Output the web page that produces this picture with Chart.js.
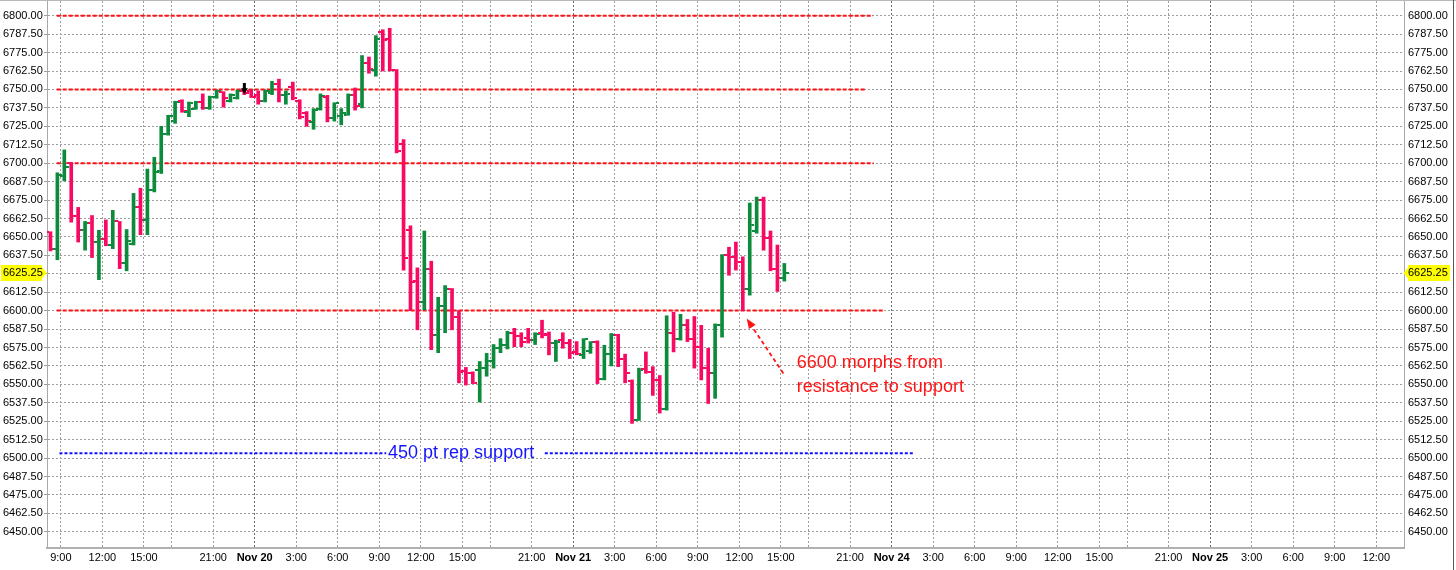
<!DOCTYPE html>
<html>
<head>
<meta charset="utf-8">
<title>ES 30-min bars</title>
<script src="https://cdn.jsdelivr.net/npm/chart.js@4.4.1/dist/chart.umd.min.js"></script>
<style>
  html, body { margin: 0; padding: 0; background: #fff; }
  #wrap { width: 1456px; height: 570px; }
</style>
</head>
<body>
<div id="wrap"><canvas id="es" width="1456" height="570"></canvas></div>
<script>
/* ES 30-minute OHLC bars, Nov 19 - Nov 21, with the drawn levels */

// x is trading hours since Nov 19 08:00 (daily 17:00-18:00 break and the weekend removed)
const X_TICKS = [1, 4, 7, 9, 12, 15, 18, 21, 24, 27, 30, 32, 35, 38, 41, 44, 47, 50, 53, 55,
  58, 61, 64, 67, 70, 73, 76, 78, 81, 84, 87, 90, 93, 96];
const X_LABELS = ["9:00", "12:00", "15:00", "", "21:00", "Nov 20", "3:00", "6:00", "9:00", "12:00",
  "15:00", "", "21:00", "Nov 21", "3:00", "6:00", "9:00", "12:00", "15:00", "",
  "21:00", "Nov 24", "3:00", "6:00", "9:00", "12:00", "15:00", "", "21:00", "Nov 25",
  "3:00", "6:00", "9:00", "12:00"];
const Y_TICKS = [6450, 6462.5, 6475, 6487.5, 6500, 6512.5, 6525, 6537.5, 6550, 6562.5,
  6575, 6587.5, 6600, 6612.5, 6625, 6637.5, 6650, 6662.5, 6675, 6687.5,
  6700, 6712.5, 6725, 6737.5, 6750, 6762.5, 6775, 6787.5, 6800];

// one bar per half hour, starting Nov 19 08:00
const OPEN = [6653, 6642, 6691.5, 6700, 6664.5, 6654.5, 6659.5, 6646.5, 6648.5, 6644.5,
  6660.5, 6632.5, 6645.5, 6670, 6661.5, 6681.5, 6694.5, 6720, 6728.5, 6742,
  6735, 6737, 6741.5, 6737.5, 6745, 6748, 6742, 6744, 6749, 6749,
  6746.5, 6742, 6747.5, 6754, 6746, 6751.5, 6742, 6734, 6728, 6736.5,
  6745, 6730.5, 6732, 6733, 6746, 6740, 6768, 6763, 6789, 6784,
  6763, 6713, 6655, 6620, 6606, 6628.5, 6583.5, 6603, 6614.5, 6596,
  6559, 6558, 6559.5, 6561, 6565.5, 6574.5, 6577, 6585, 6582.5, 6581.5,
  6580, 6584.5, 6584, 6578, 6580, 6578, 6572, 6570, 6572.5, 6579,
  6553.5, 6570.5, 6583.5, 6567, 6552, 6526, 6560.5, 6558.5, 6553, 6533,
  6585, 6581, 6590, 6580.5, 6575.5, 6561, 6558, 6590, 6637.5, 6636.5,
  6633, 6615, 6654, 6675, 6649, 6628, 6622];
const HIGH = [6653.5, 6693.5, 6709, 6700.5, 6670, 6660.5, 6664.5, 6654.5, 6661.5, 6668,
  6660.5, 6655, 6679.5, 6683, 6696, 6704, 6725, 6732.5, 6742, 6743,
  6741.5, 6742, 6747, 6745.5, 6749.5, 6748.5, 6747, 6749.5, 6751, 6749.5,
  6749, 6749.5, 6755.5, 6757, 6749, 6755, 6743, 6735, 6737, 6747,
  6746, 6741, 6737, 6747, 6751, 6773, 6772, 6786.5, 6790.5, 6791.5,
  6763.5, 6716, 6657.5, 6629, 6654, 6633.5, 6609, 6617, 6615, 6600,
  6561.5, 6558.5, 6565.5, 6571, 6577, 6581, 6586, 6588, 6585, 6588,
  6585, 6593.5, 6585.5, 6580, 6585, 6580.5, 6579, 6581, 6579, 6579.5,
  6576.5, 6584.5, 6584, 6570.5, 6553, 6561, 6572, 6562, 6556, 6596.5,
  6599, 6597.5, 6594, 6596, 6590, 6574.5, 6591, 6638, 6643, 6646.5,
  6636.5, 6673, 6677, 6677, 6654, 6644.5, 6632];
const LOW = [6640.5, 6634.5, 6688, 6660, 6646.5, 6641, 6636, 6621, 6644, 6642,
  6628.5, 6627, 6644.5, 6651.5, 6651.5, 6680.5, 6693, 6719, 6727, 6734.5,
  6731.5, 6736.5, 6736.5, 6736.5, 6744, 6738, 6741.5, 6743.5, 6746.5, 6744.5,
  6740, 6741.5, 6746.5, 6741.5, 6740, 6743, 6730, 6725, 6723, 6736,
  6728, 6728.5, 6726, 6732.5, 6736, 6737.5, 6761, 6759, 6762.5, 6762.5,
  6707, 6627.5, 6600, 6587, 6600.5, 6573.5, 6571.5, 6585, 6587, 6551,
  6549.5, 6550.5, 6538, 6555.5, 6561, 6571.5, 6574, 6575.5, 6575.5, 6578,
  6577, 6581.5, 6570, 6565.5, 6574.5, 6567.5, 6570, 6567.5, 6571, 6550.5,
  6553, 6562.5, 6562, 6551, 6523.5, 6525.5, 6557.5, 6542.5, 6530.5, 6532.5,
  6572, 6580, 6579, 6561, 6553, 6537, 6540.5, 6582, 6624, 6627.5,
  6600, 6610.5, 6652.5, 6641, 6627, 6613, 6620];
const CLOSE = [6641.5, 6692, 6697.5, 6664.5, 6654.5, 6659.5, 6646.5, 6648.5, 6644.5, 6660.5,
  6632.5, 6647.5, 6670, 6661.5, 6681.5, 6694, 6720, 6732, 6741.5, 6735.5,
  6740.5, 6741.5, 6737.5, 6745, 6749, 6744, 6746, 6749, 6747.5, 6745,
  6742, 6749, 6753.5, 6746, 6747, 6744, 6731.5, 6728.5, 6736, 6745.5,
  6730.5, 6740.5, 6734, 6746, 6739, 6768, 6764, 6784, 6783.5, 6763,
  6708, 6635.5, 6619.5, 6606, 6628.5, 6583.5, 6603, 6614.5, 6596, 6558.5,
  6557.5, 6551, 6561, 6565.5, 6574.5, 6577, 6585, 6582.5, 6579, 6580,
  6584, 6583.5, 6578, 6579, 6578, 6571, 6570.5, 6580.5, 6578.5, 6553.5,
  6570.5, 6583.5, 6567, 6558, 6526, 6560, 6558.5, 6553, 6533, 6585,
  6581, 6590, 6580.5, 6575.5, 6561, 6558, 6590, 6637.5, 6636.5, 6633,
  6615, 6658, 6675, 6649, 6628, 6622, 6625.25];

const LAST_PRICE = 6625.25;
const MARKER_BAR = 28;          // black sell arrow
const MARKER_PRICE = 6750.5;

// drawn levels: price, start hour, end hour
const RED_LEVELS = [6800, 6750, 6700, 6600];
const RED_FROM = [0.7, 0.7, 0.7, 0.7];
const RED_TO = [59.65, 59.15, 59.7, 60.4];
const BLUE_LEVEL = 6503.2;
const BLUE_SPANS = [[0.9, 24.5], [35.95, 62.55]];

const GREEN = "#0c8b3c";
const PINK = "#f80a62";
const FONT = "'Liberation Sans', Arial, sans-serif";

const barX = (i) => 0.25 + i * 0.5;

function tickImage(color, side) {
  const c = document.createElement("canvas");
  c.width = 9; c.height = 2;
  const g = c.getContext("2d");
  g.fillStyle = color;
  g.fillRect(side === "open" ? 0 : 6, 0, 3, 2);
  return c;
}
const TICK_IMG = {
  open: { up: tickImage(GREEN, "open"), down: tickImage(PINK, "open") },
  close: { up: tickImage(GREEN, "close"), down: tickImage(PINK, "close") }
};

function arrowImage() {
  const c = document.createElement("canvas");
  c.width = 7; c.height = 11;
  const g = c.getContext("2d");
  g.fillStyle = "#000";
  g.fillRect(2, 0, 3, 6);
  g.beginPath(); g.moveTo(0, 5); g.lineTo(7, 5); g.lineTo(3.5, 11); g.closePath(); g.fill();
  return c;
}

const isUp = (i) => CLOSE[i] >= OPEN[i];

const datasets = [];
RED_LEVELS.forEach((p, k) => {
  datasets.push({
    type: "line", order: 5,
    data: [{ x: RED_FROM[k], y: p }, { x: RED_TO[k], y: p }],
    borderColor: "#ff1010", borderWidth: 2, borderDash: [4, 2],
    pointRadius: 0
  });
});
BLUE_SPANS.forEach((s) => {
  datasets.push({
    type: "line", order: 5,
    data: [{ x: s[0], y: BLUE_LEVEL }, { x: s[1], y: BLUE_LEVEL }],
    borderColor: "#1010ff", borderWidth: 2, borderDash: [3, 2],
    pointRadius: 0
  });
});
datasets.push({
  type: "bar", order: 2,
  data: HIGH.map((h, i) => ({ x: barX(i), y: [LOW[i], h] })),
  backgroundColor: HIGH.map((h, i) => (isUp(i) ? GREEN : PINK)),
  barThickness: 3, borderWidth: 0
});
datasets.push({
  type: "scatter", order: 1,
  data: OPEN.map((o, i) => ({ x: barX(i), y: o })),
  pointRadius: 3,
  pointStyle: (c) => TICK_IMG.open[isUp(c.dataIndex) ? "up" : "down"]
});
datasets.push({
  type: "scatter", order: 1,
  data: CLOSE.map((v, i) => ({ x: barX(i), y: v })),
  pointRadius: 3,
  pointStyle: (c) => TICK_IMG.close[isUp(c.dataIndex) ? "up" : "down"]
});
datasets.push({
  type: "scatter", order: 0,
  data: [{ x: barX(MARKER_BAR), y: MARKER_PRICE }],
  pointRadius: 4, pointStyle: arrowImage()
});

// notes and price flags, placed through the scales
const overlay = {
  id: "overlay",
  beforeDraw(chart) {
    const { ctx, width, height } = chart;
    ctx.save();
    ctx.fillStyle = "#fff";
    ctx.fillRect(0, 0, width, height);
    ctx.restore();
  },
  afterDraw(chart) {
    const { ctx, scales: { x, y } } = chart;
    ctx.save();

    ctx.strokeStyle = "#b8b8b8"; ctx.lineWidth = 1;
    ctx.beginPath(); ctx.moveTo(0, 0.5); ctx.lineTo(chart.width, 0.5); ctx.stroke();
    ctx.strokeStyle = "#555";
    ctx.beginPath(); ctx.moveTo(chart.width - 2.5, 0); ctx.lineTo(chart.width - 2.5, chart.height); ctx.stroke();

    ctx.font = "18px " + FONT;
    ctx.textAlign = "left";
    ctx.textBaseline = "middle";
    ctx.fillStyle = "#1414ff";
    ctx.fillText("450 pt rep support", x.getPixelForValue(24.63), y.getPixelForValue(BLUE_LEVEL));

    ctx.textBaseline = "alphabetic";
    ctx.fillStyle = "#ff1414";
    ctx.fillText("6600 morphs from", x.getPixelForValue(54.15), y.getPixelForValue(6560.8));
    ctx.fillText("resistance to support", x.getPixelForValue(54.15), y.getPixelForValue(6545));

    // dashed arrow to the 6600 retest
    const x0 = x.getPixelForValue(53.18), y0 = y.getPixelForValue(6557.4);
    const x1 = x.getPixelForValue(50.53), y1 = y.getPixelForValue(6594.6);
    const ang = Math.atan2(y1 - y0, x1 - x0);
    ctx.strokeStyle = "#ff1414"; ctx.lineWidth = 1.8; ctx.setLineDash([4, 3]);
    ctx.beginPath(); ctx.moveTo(x0, y0);
    ctx.lineTo(x1 - 7 * Math.cos(ang), y1 - 7 * Math.sin(ang)); ctx.stroke();
    ctx.setLineDash([]);
    ctx.fillStyle = "#ff1414";
    ctx.beginPath();
    ctx.moveTo(x1, y1);
    ctx.lineTo(x1 - 10 * Math.cos(ang) + 4 * Math.sin(ang), y1 - 10 * Math.sin(ang) - 4 * Math.cos(ang));
    ctx.lineTo(x1 - 10 * Math.cos(ang) - 4 * Math.sin(ang), y1 - 10 * Math.sin(ang) + 4 * Math.cos(ang));
    ctx.closePath(); ctx.fill();

    // last price flags on both axes
    const py = Math.round(y.getPixelForValue(LAST_PRICE));
    const L = chart.scales.y, R = chart.scales.y2;
    ctx.fillStyle = "#ffff00";
    ctx.fillRect(1, py - 8, L.right - 6, 16);
    ctx.beginPath(); ctx.moveTo(L.right - 5.5, py - 6); ctx.lineTo(L.right, py); ctx.lineTo(L.right - 5.5, py + 6); ctx.fill();
    ctx.fillRect(R.left + 4, py - 8, 42, 16);
    ctx.beginPath(); ctx.moveTo(R.left + 4.5, py - 6); ctx.lineTo(R.left - 0.5, py); ctx.lineTo(R.left + 4.5, py + 6); ctx.fill();
    ctx.font = "11px " + FONT;
    ctx.fillStyle = "#000";
    ctx.textBaseline = "middle";
    ctx.fillText(LAST_PRICE.toFixed(2), 3, py);
    ctx.fillText(LAST_PRICE.toFixed(2), R.left + 4, py);
    ctx.restore();
  }
};

const yTicks = (scale) => { scale.ticks = Y_TICKS.map((v) => ({ value: v })); };

new Chart(document.getElementById("es"), {
  type: "bar",
  data: { datasets },
  options: {
    responsive: false,
    animation: false,
    devicePixelRatio: 1,
    events: [],
    layout: { padding: { left: 3, top: 1, right: 0, bottom: 0 }, autoPadding: false },
    plugins: { legend: { display: false }, tooltip: { enabled: false } },
    scales: {
      x: {
        type: "linear", position: "bottom", min: 0, max: 98, offset: false,
        afterBuildTicks: (s) => { s.ticks = X_TICKS.map((v) => ({ value: v })); },
        afterFit: (s) => { s.height = 22; s.paddingLeft = 0; s.paddingRight = 0; },
        grid: {
          offset: false, drawTicks: false, lineWidth: 1,
          color: (c) => (String(X_LABELS[c.index] || "").startsWith("Nov") ? "#6a6a6a" : "#9c9c9c")
        },
        border: { color: "#b0b0b0", width: 2, dash: [2, 2] },
        ticks: {
          autoSkip: false, maxRotation: 0, padding: 3, color: "#000",
          callback: (v, i) => X_LABELS[i],
          font: (c) => ({ family: FONT, size: 11,
            weight: String(X_LABELS[c.index] || "").startsWith("Nov") ? "bold" : "normal" })
        }
      },
      y: {
        type: "linear", position: "left", min: 6439, max: 6810,
        afterBuildTicks: yTicks,
        afterFit: (s) => { s.width = 44; s.paddingTop = 0; s.paddingBottom = 0; },
        grid: { color: "#9c9c9c", lineWidth: 1, drawTicks: true, tickLength: 3, tickColor: "#9c9c9c" },
        border: { color: "#a8a8a8", width: 1, dash: [2, 2] },
        ticks: {
          crossAlign: "far", color: "#000", font: { family: FONT, size: 11 },
          callback: (v) => Number(v).toFixed(2)
        }
      },
      y2: {
        type: "linear", position: "right", min: 6439, max: 6810,
        afterBuildTicks: yTicks,
        afterFit: (s) => { s.width = 52; s.paddingTop = 0; s.paddingBottom = 0; },
        grid: { display: false, drawTicks: false },
        border: { color: "#a8a8a8", width: 1 },
        ticks: {
          padding: 4, color: "#000", font: { family: FONT, size: 11 },
          callback: (v) => Number(v).toFixed(2)
        }
      }
    }
  },
  plugins: [overlay]
});
</script>
</body>
</html>
